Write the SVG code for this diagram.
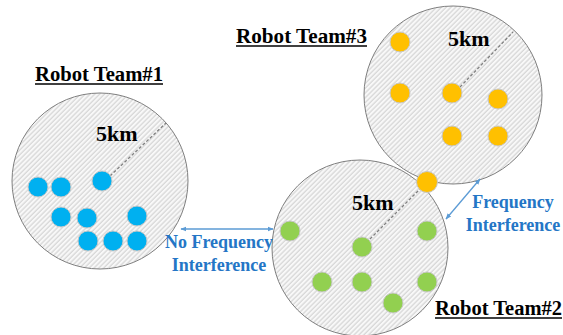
<svg xmlns="http://www.w3.org/2000/svg" width="563" height="335" viewBox="0 0 563 335">
  <defs>
    <pattern id="hatch" patternUnits="userSpaceOnUse" width="3.4" height="3.4" patternTransform="rotate(45)">
      <rect width="3.4" height="3.4" fill="#f8f8f8"/>
      <line x1="1" y1="0" x2="1" y2="3.4" stroke="#d4d4d4" stroke-width="1.2"/>
    </pattern>
    <marker id="head" viewBox="0 0 10 10" refX="9" refY="5" markerWidth="6" markerHeight="6" orient="auto-start-reverse" markerUnits="userSpaceOnUse">
      <path d="M0,1 L10,5 L0,9 Z" fill="#5b9bd5"/>
    </marker>
    <style>
      .zone { fill: url(#hatch); stroke: #7f7f7f; stroke-width: 1; }
      .radius { stroke: #7f7f7f; stroke-width: 1.3; stroke-dasharray: 3 2; fill: none; }
      .dot { stroke: #c8c8c8; stroke-width: 1; }
      .blue { fill: #00b0f0; }
      .green { fill: #92d050; }
      .orange { fill: #ffc000; }
      .title { font-family: "Liberation Serif", "Times New Roman", serif; font-weight: bold; font-size: 20px; fill: #000; }
      .km { font-family: "Liberation Serif", "Times New Roman", serif; font-weight: bold; font-size: 22px; fill: #000; }
      .note { font-family: "Liberation Serif", "Times New Roman", serif; font-weight: bold; font-size: 18px; fill: #2476c6; text-anchor: middle; }
      .uline { stroke: #000; stroke-width: 1.5; }
      .link { stroke: #5b9bd5; stroke-width: 1.3; fill: none; marker-start: url(#head); marker-end: url(#head); }
    </style>
  </defs>

  <!-- Team 1 -->
  <g id="team1">
    <circle class="zone" cx="100" cy="181" r="88"/>
    <line class="radius" x1="110" y1="176" x2="166" y2="123"/>
    <text class="km" x="96" y="141">5km</text>
    <circle class="dot blue" cx="38" cy="187" r="10"/>
    <circle class="dot blue" cx="61" cy="187" r="10"/>
    <circle class="dot blue" cx="102" cy="181" r="10"/>
    <circle class="dot blue" cx="61" cy="217" r="10"/>
    <circle class="dot blue" cx="87" cy="218" r="10"/>
    <circle class="dot blue" cx="137" cy="216" r="10"/>
    <circle class="dot blue" cx="88" cy="241" r="10"/>
    <circle class="dot blue" cx="113" cy="241" r="10"/>
    <circle class="dot blue" cx="137" cy="241" r="10"/>
    <text class="title" x="35" y="81" textLength="128" lengthAdjust="spacingAndGlyphs">Robot Team#1</text>
    <line class="uline" x1="35" y1="84" x2="163" y2="84"/>
  </g>

  <!-- Team 2 -->
  <g id="team2">
    <circle class="zone" cx="360" cy="248" r="88"/>
    <line class="radius" x1="370" y1="239" x2="420" y2="189"/>
    <text class="km" x="352" y="210">5km</text>
    <circle class="dot green" cx="290" cy="231" r="10"/>
    <circle class="dot green" cx="362" cy="247" r="10"/>
    <circle class="dot green" cx="427" cy="231" r="10"/>
    <circle class="dot green" cx="322" cy="282" r="10"/>
    <circle class="dot green" cx="362" cy="282" r="10"/>
    <circle class="dot green" cx="427" cy="282" r="10"/>
    <circle class="dot green" cx="393" cy="303" r="10"/>
    <text class="title" x="435" y="315" textLength="127" lengthAdjust="spacingAndGlyphs">Robot Team#2</text>
    <line class="uline" x1="435" y1="318" x2="562" y2="318"/>
  </g>

  <!-- Team 3 -->
  <g id="team3">
    <circle class="zone" cx="453" cy="95" r="89"/>
    <line class="radius" x1="460" y1="87" x2="513" y2="32"/>
    <text class="km" x="448" y="46">5km</text>
    <circle class="dot orange" cx="400" cy="42" r="10"/>
    <circle class="dot orange" cx="400" cy="93" r="10"/>
    <circle class="dot orange" cx="452" cy="93" r="10"/>
    <circle class="dot orange" cx="498" cy="99" r="10"/>
    <circle class="dot orange" cx="452" cy="136" r="10"/>
    <circle class="dot orange" cx="498" cy="136" r="10"/>
    <circle class="dot orange" cx="427" cy="182" r="10.5"/>
    <text class="title" x="236" y="43" textLength="131" lengthAdjust="spacingAndGlyphs">Robot Team#3</text>
    <line class="uline" x1="236" y1="46" x2="367" y2="46"/>
  </g>

  <!-- Interference links -->
  <g id="connectors">
    <line class="link" x1="181" y1="229" x2="273" y2="229"/>
    <line class="link" x1="446" y1="219" x2="480" y2="179"/>
  </g>

  <g id="labels">
    <text class="note" x="219" y="248">No Frequency</text>
    <text class="note" x="219" y="271">Interference</text>
    <text class="note" x="513" y="208">Frequency</text>
    <text class="note" x="513" y="231">Interference</text>
  </g>
</svg>
